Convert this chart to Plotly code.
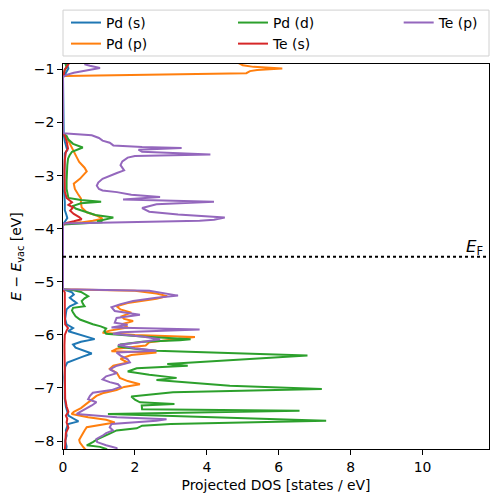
import plotly.graph_objects as go

# (energy [eV], projected DOS [states/eV])
pd_s_points = [(-0.85,0.05),(-0.92,0.12),(-0.98,0.15),(-1.05,0.1),(-1.10,0.05),(-1.13,0.0),
    (-2.20,0.0),(-2.22,0.02),(-2.35,0.05),(-2.45,0.08),(-2.52,0.12),(-2.58,0.05),(-2.80,0.04),(-3.00,0.03),
    (-3.30,0.03),(-3.50,0.05),(-3.65,0.05),(-3.75,0.10),(-3.80,0.12),(-3.86,0.06),(-3.90,0.02),(-3.92,0.0),
    (-5.14,0.0),(-5.16,0.10),(-5.20,0.25),(-5.24,0.30),(-5.30,0.19),(-5.36,0.30),(-5.40,0.38),(-5.46,0.19),
    (-5.52,0.10),(-5.60,0.08),(-5.70,0.06),(-5.80,0.10),(-5.87,0.28),(-5.93,0.15),(-5.98,0.40),(-6.03,0.70),
    (-6.08,0.88),(-6.13,0.50),(-6.18,0.28),(-6.24,0.35),(-6.30,0.60),(-6.35,0.80),(-6.41,0.55),(-6.47,0.30),
    (-6.52,0.12),(-6.60,0.06),(-6.80,0.04),(-7.00,0.05),(-7.20,0.05),(-7.35,0.08),(-7.45,0.12),(-7.52,0.15),
    (-7.58,0.30),(-7.63,0.43),(-7.68,0.14),(-7.80,0.08),(-7.90,0.10),(-8.00,0.06),(-8.10,0.10),(-8.20,0.08)]

pd_p_points = [(-0.85,4.8),(-0.92,5.0),(-0.95,5.3),(-0.98,6.1),(-1.01,5.4),(-1.03,5.2),(-1.07,5.1),(-1.12,0.05),(-1.14,0.0),
    (-2.20,0.0),(-2.25,0.08),(-2.35,0.15),(-2.45,0.22),(-2.55,0.30),(-2.65,0.38),(-2.74,0.45),(-2.85,0.60),
    (-2.92,0.66),(-2.97,0.60),(-3.06,0.47),(-3.15,0.30),(-3.25,0.33),(-3.35,0.42),(-3.43,0.50),(-3.52,0.50),
    (-3.60,0.52),(-3.69,0.66),(-3.75,0.93),(-3.81,1.10),(-3.85,0.83),(-3.88,0.50),(-3.91,0.05),(-3.93,0.0),
    (-5.14,0.0),(-5.17,2.0),(-5.22,2.6),(-5.27,2.9),(-5.32,2.6),(-5.40,1.8),(-5.46,1.49),(-5.52,1.6),(-5.58,1.9),
    (-5.65,1.63),(-5.70,1.7),(-5.74,1.95),(-5.80,1.63),(-5.86,1.8),(-5.92,1.3),(-5.96,1.1),(-6.00,2.0),
    (-6.04,3.67),(-6.08,3.2),(-6.14,2.4),(-6.20,2.3),(-6.26,1.5),(-6.31,1.35),(-6.33,2.6),(-6.38,1.9),
    (-6.45,1.6),(-6.52,1.8),(-6.58,1.4),(-6.64,1.3),(-6.72,1.5),(-6.81,1.58),(-6.87,1.8),(-6.93,2.14),
    (-6.98,1.7),(-7.04,1.49),(-7.10,1.1),(-7.15,0.93),(-7.22,0.8),(-7.30,0.66),(-7.38,0.5),(-7.45,0.3),
    (-7.49,0.24),(-7.55,0.7),(-7.60,1.2),(-7.65,1.44),(-7.70,1.0),(-7.74,0.66),(-7.80,0.6),(-7.84,0.56),
    (-7.92,0.5),(-7.98,0.45),(-8.03,0.47),(-8.10,0.55),(-8.15,0.61),(-8.20,0.7)]

pd_d_points = [(-0.85,0.05),(-0.92,0.08),(-0.96,0.10),(-1.00,0.05),(-1.10,0.02),(-1.13,0.0),
    (-2.20,0.0),(-2.25,0.10),(-2.32,0.15),(-2.40,0.28),(-2.47,0.55),(-2.50,0.45),(-2.55,0.25),(-2.62,0.18),
    (-2.68,0.14),(-2.80,0.12),(-2.95,0.10),(-3.10,0.10),(-3.25,0.10),(-3.34,0.12),(-3.42,0.15),(-3.46,0.50),
    (-3.49,1.06),(-3.52,0.50),(-3.57,0.28),(-3.62,0.35),(-3.68,0.66),(-3.74,0.90),(-3.79,1.40),(-3.83,1.10),
    (-3.86,0.95),(-3.88,1.10),(-3.90,0.40),(-3.92,0.0),
    (-5.14,0.0),(-5.16,0.30),(-5.19,0.50),(-5.23,0.60),(-5.27,0.70),(-5.31,0.60),(-5.36,0.52),(-5.41,0.55),
    (-5.46,0.60),(-5.49,0.28),(-5.54,0.25),(-5.58,0.28),(-5.65,0.35),(-5.71,0.47),(-5.76,0.65),(-5.80,0.83),
    (-5.84,1.05),(-5.88,1.2),(-5.93,1.15),(-5.98,1.2),(-6.03,2.2),(-6.08,3.55),(-6.10,3.25),(-6.13,2.2),
    (-6.18,1.6),(-6.22,1.53),(-6.26,2.0),(-6.30,2.6),(-6.39,6.8),(-6.55,2.9),(-6.58,3.47),(-6.61,2.6),
    (-6.63,2.05),(-6.69,1.8),(-6.75,2.4),(-6.81,3.16),(-6.85,2.6),(-6.96,4.64),(-7.02,7.2),(-7.08,3.06),
    (-7.13,2.2),(-7.16,1.9),(-7.22,2.0),(-7.27,2.14),(-7.30,3.1),(-7.33,2.19),(-7.40,2.2),(-7.43,6.58),
    (-7.49,1.25),(-7.62,7.32),(-7.68,3.0),(-7.71,2.2),(-7.76,2.05),(-7.80,1.49),(-7.86,1.3),(-7.92,1.1),
    (-7.97,0.95),(-8.02,0.83),(-8.08,0.66),(-8.11,1.03),(-8.15,1.2),(-8.20,1.3)]

te_s_points = [(-0.85,0.10),(-0.90,0.15),(-0.95,0.10),(-1.00,0.05),(-1.10,0.02),(-1.13,0.0),
    (-2.20,0.0),(-2.25,0.05),(-2.35,0.10),(-2.45,0.12),(-2.49,0.14),(-2.55,0.08),(-2.70,0.05),(-2.90,0.04),
    (-3.10,0.04),(-3.30,0.05),(-3.42,0.10),(-3.50,0.25),(-3.55,0.15),(-3.60,0.28),(-3.66,0.20),(-3.72,0.30),
    (-3.78,0.45),(-3.82,0.52),(-3.86,0.30),(-3.89,0.10),(-3.92,0.0),
    (-5.14,0.0),(-5.20,0.05),(-5.40,0.04),(-5.60,0.05),(-5.80,0.06),(-5.87,0.14),(-5.92,0.10),(-6.00,0.05),
    (-6.20,0.04),(-6.50,0.05),(-6.80,0.04),(-7.00,0.05),(-7.20,0.06),(-7.35,0.10),(-7.45,0.15),(-7.52,0.08),
    (-7.58,0.12),(-7.65,0.10),(-7.75,0.15),(-7.85,0.08),(-8.00,0.06),(-8.20,0.05)]

te_p_points = [(-0.85,0.8),(-0.90,0.6),(-0.93,0.75),(-0.97,1.03),(-1.00,0.8),(-1.03,0.5),(-1.06,0.3),(-1.10,0.1),
    (-1.12,0.02),(-1.14,0.0),
    (-2.20,0.0),(-2.24,0.8),(-2.29,1.0),(-2.34,1.1),(-2.38,1.3),(-2.43,1.4),(-2.46,2.2),(-2.48,3.3),(-2.51,2.1),
    (-2.55,2.2),(-2.60,4.1),(-2.63,2.0),(-2.66,1.8),(-2.73,1.65),(-2.80,1.6),(-2.86,1.65),(-2.90,1.7),
    (-2.95,1.5),(-3.00,1.3),(-3.06,1.1),(-3.13,0.98),(-3.19,0.94),(-3.25,1.0),(-3.28,1.1),(-3.31,1.5),
    (-3.36,1.9),(-3.40,2.7),(-3.45,1.67),(-3.49,4.2),(-3.54,2.6),(-3.61,2.2),(-3.68,2.4),(-3.73,3.2),
    (-3.79,4.5),(-3.83,4.2),(-3.85,3.8),(-3.90,0.0),
    (-5.14,0.0),(-5.17,2.4),(-5.22,2.8),(-5.26,3.2),(-5.30,2.6),(-5.36,1.95),(-5.42,1.6),(-5.48,1.35),
    (-5.55,1.44),(-5.62,2.14),(-5.68,1.49),(-5.77,1.44),(-5.81,1.8),(-5.86,1.35),(-5.90,3.8),(-5.95,1.6),
    (-5.98,1.39),(-6.03,2.2),(-6.08,2.7),(-6.14,2.14),(-6.19,1.53),(-6.25,2.0),(-6.30,2.6),(-6.33,1.49),
    (-6.39,1.6),(-6.46,1.8),(-6.52,1.86),(-6.58,1.5),(-6.65,1.3),(-6.72,1.5),(-6.78,1.2),(-6.84,1.1),
    (-6.89,1.3),(-6.93,1.53),(-6.98,1.6),(-7.04,1.35),(-7.09,0.83),(-7.15,0.75),(-7.21,0.7),(-7.27,0.93),
    (-7.33,0.8),(-7.40,0.6),(-7.45,0.45),(-7.49,0.38),(-7.55,1.5),(-7.59,2.88),(-7.62,2.6),(-7.68,1.35),
    (-7.74,1.3),(-7.80,1.39),(-7.85,1.2),(-7.90,1.1),(-7.96,0.93),(-8.02,0.95),(-8.08,1.2),(-8.13,1.49),
    (-8.20,1.5)]

series_names = ["Pd (s)", "Pd (p)", "Pd (d)", "Te (s)", "Te (p)"]
series_points = [pd_s_points, pd_p_points, pd_d_points, te_s_points, te_p_points]
series_colors = ["#1f77b4", "#ff7f0e", "#2ca02c", "#d62728", "#9467bd"]
legend_slots = ["legend", "legend", "legend2", "legend2", "legend3"]

fermi_level = -4.53
x_ticks = [0, 2, 4, 6, 8, 10]
y_ticks = [-8, -7, -6, -5, -4, -3, -2, -1]

FONT = "DejaVu Sans, Verdana, sans-serif"
FS = 13.9

fig = go.Figure()
for name, pts, col, lg in zip(series_names, series_points, series_colors, legend_slots):
    fig.add_trace(go.Scatter(
        x=[p[1] for p in pts], y=[p[0] for p in pts], mode="lines", name=name,
        line=dict(color=col, width=2.0), legend=lg))

fig.add_shape(type="line", xref="paper", x0=0, x1=1, yref="y", y0=fermi_level, y1=fermi_level,
              line=dict(color="black", width=2.0, dash="dot"))
fig.add_annotation(x=1, xref="paper", y=fermi_level, yref="y", text="<i>E</i><sub>F</sub>",
                   showarrow=False, xanchor="right", yanchor="bottom", xshift=-4, yshift=-3,
                   font=dict(family=FONT, size=16.5, color="black"))

# legend frame
fig.add_shape(type="rect", xref="paper", yref="paper", x0=0, x1=1, y0=1.0208, y1=1.140,
              line=dict(color="#d0d0d0", width=1), fillcolor="rgba(255,255,255,0.8)", layer="below")

leg_common = dict(orientation="v", yanchor="top", xanchor="left", bgcolor="rgba(0,0,0,0)",
                  borderwidth=0, font=dict(family=FONT, size=FS, color="black"),
                  tracegroupgap=0, y=1.148)

fig.update_layout(
    width=498, height=502,
    margin=dict(l=63, r=9, t=64, b=53, autoexpand=False),
    paper_bgcolor="white", plot_bgcolor="white",
    font=dict(family=FONT, size=FS, color="black"),
    legend=dict(x=0.007, **leg_common),
    legend2=dict(x=0.399, **leg_common),
    legend3=dict(x=0.788, **leg_common),
    xaxis=dict(range=[0, 11.85], tickvals=x_ticks, showgrid=False, zeroline=False,
               showline=True, linecolor="black", linewidth=1.1, mirror=True,
               ticks="outside", ticklen=4.9, tickwidth=1.1, tickcolor="black",
               title=dict(text="Projected DOS [states / eV]", standoff=6,
                          font=dict(family=FONT, size=FS))),
    yaxis=dict(range=[-8.15, -0.896], tickvals=y_ticks, showgrid=False, zeroline=False,
               showline=True, linecolor="black", linewidth=1.1, mirror=True,
               ticks="outside", ticklen=4.9, tickwidth=1.1, tickcolor="black",
               title=dict(text="<i>E</i> − <i>E</i><sub>vac</sub> [eV]", standoff=8,
                          font=dict(family=FONT, size=FS))),
)

fig.write_html("out.html", config={"displayModeBar": False},
               post_script="document.body.style.margin='0';document.body.style.padding='0';")
